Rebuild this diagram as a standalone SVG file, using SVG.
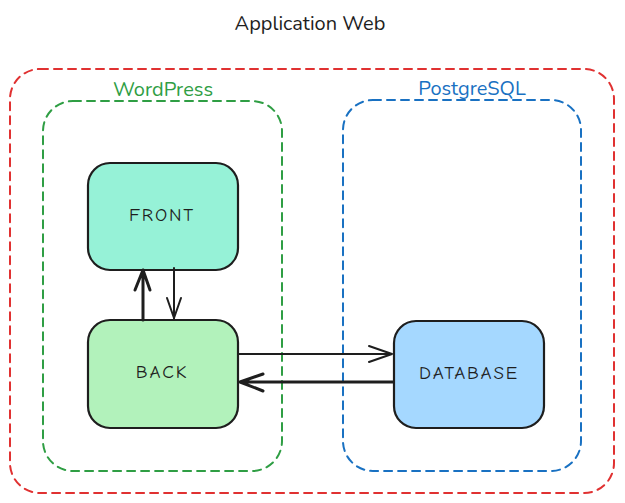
<svg xmlns="http://www.w3.org/2000/svg" width="625" height="503" viewBox="0 0 625 503">
<style>
.grp{fill:none;stroke-width:2;stroke-dasharray:8 6;stroke-linecap:round}
.hdr{font-family:"Nunito","Noto Sans","Lato",sans-serif;font-size:20px;text-anchor:middle}
.node{stroke:#1e1e1e;stroke-width:2.2}
.lbl{font-family:"Comic Neue","DejaVu Sans","Liberation Sans",sans-serif;font-size:19px;fill:#1e1e1e;text-anchor:middle;dominant-baseline:central;letter-spacing:1.8px}
.con{fill:none;stroke:#1e1e1e;stroke-linecap:round;stroke-linejoin:round}
</style>
<rect width="625" height="503" fill="#ffffff"/>
<text class="hdr" x="310" y="30" fill="#1e1e1e">Application Web</text>
<g id="app-web">
<rect class="grp" x="10" y="69" width="604" height="424" rx="30" stroke="#e03131"/>
</g>
<g id="wordpress">
<rect class="grp" x="43" y="101" width="239" height="370" rx="30" stroke="#2f9e44"/>
<text class="hdr" x="163" y="96" fill="#2f9e44">WordPress</text>
</g>
<g id="postgresql">
<rect class="grp" x="343" y="100" width="238" height="371" rx="30" stroke="#1971c2"/>
<text class="hdr" x="472" y="95" fill="#1971c2">PostgreSQL</text>
</g>
<g id="front">
<rect class="node" x="88" y="163" width="150" height="107" rx="22" fill="#96f2d7"/>
<text class="lbl" x="162" y="215">FRONT</text>
</g>
<g id="back">
<rect class="node" x="88" y="320" width="150" height="108" rx="22" fill="#b2f2bb"/>
<text class="lbl" x="162" y="372">BACK</text>
</g>
<g id="database">
<rect class="node" x="394" y="321" width="150" height="107" rx="22" fill="#a5d8ff"/>
<text class="lbl" x="469" y="373">DATABASE</text>
</g>
<g id="connectors">
<path class="con" stroke-width="3" d="M143 320 L143 270 M135 290 L143 270 L150 290"/>
<path class="con" stroke-width="2" d="M174 268 L174 320 M167 298 L174 318 L181 298"/>
<path class="con" stroke-width="2" d="M238 354 L392 354 M369 346 L392 354 L369 362"/>
<path class="con" stroke-width="3" d="M393 382 L240 382 M263 374 L240 382 L263 391"/>
</g>
</svg>
